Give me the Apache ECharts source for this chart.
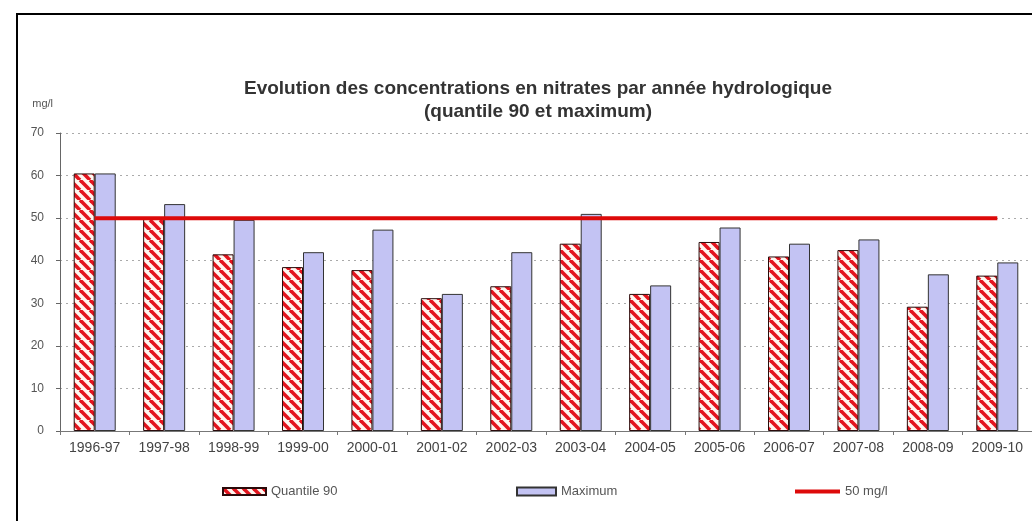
<!DOCTYPE html>
<html>
<head>
<meta charset="utf-8">
<script src="https://cdn.jsdelivr.net/npm/echarts@6/dist/echarts.min.js"></script>
<style>
  html, body { margin: 0; padding: 0; background: #fff; }
  #chart { width: 1032px; height: 521px; }
</style>
</head>
<body>
<div id="chart"></div>
<script>
// années hydrologiques
const years = ['1996-97', '1997-98', '1998-99', '1999-00', '2000-01', '2001-02', '2002-03',
  '2003-04', '2004-05', '2005-06', '2006-07', '2007-08', '2008-09', '2009-10']
// valeurs (mg/l)
const quantile90 = [60.5, 49.8, 41.5, 38.5, 37.8, 31.2, 34.0, 44.0, 32.2, 44.4, 41.0, 42.5, 29.2, 36.5]
const maximum = [60.5, 53.3, 49.6, 42.0, 47.3, 32.2, 42.0, 51.0, 34.2, 47.8, 44.0, 45.0, 36.8, 39.6]
const seuil = years.map(() => 50)
const yTicks = [0, 10, 20, 30, 40, 50, 60, 70]

// motif hachuré rouge
const makeHatch = () => {
  const c = document.createElement('canvas')
  const s = 10
  c.width = s
  c.height = s
  const ctx = c.getContext('2d')
  ctx.fillStyle = '#fff6f0'
  ctx.fillRect(0, 0, s, s)
  ctx.strokeStyle = '#e3141e'
  ctx.lineWidth = 3.6
  for (let k = -s; k <= s; k += s) {
    ctx.beginPath()
    ctx.moveTo(k, 0)
    ctx.lineTo(k + s, s)
    ctx.stroke()
  }
  return c
}
const hatch = { image: makeHatch(), repeat: 'repeat' }

const font = 'Liberation Sans, Arial, sans-serif'
const myChart = echarts.init(document.getElementById('chart'))

const legendText = { fontFamily: font, fontSize: 13, color: '#555' }

const option = {
  backgroundColor: '#fff',
  animation: false,
  title: {
    text: 'Evolution des concentrations en nitrates par année hydrologique\n(quantile 90 et maximum)',
    left: 533,
    top: 72,
    textAlign: 'center',
    textStyle: {
      fontFamily: font,
      fontSize: 19,
      fontWeight: 'bold',
      color: '#333',
      lineHeight: 23
    }
  },
  legend: [
    {
      left: 217, top: 480, itemWidth: 43, itemHeight: 7, itemGap: 2,
      data: [{ name: 'Quantile 90', icon: 'rect' }],
      textStyle: legendText
    },
    {
      left: 511, top: 480, itemWidth: 39, itemHeight: 8, itemGap: 4,
      data: [{ name: 'Maximum', icon: 'rect' }],
      textStyle: legendText
    },
    {
      left: 790, top: 480, itemWidth: 45, itemHeight: 4, itemGap: 2,
      data: [{ name: '50 mg/l', icon: 'rect' }],
      textStyle: legendText
    }
  ],
  grid: {
    left: 60,
    top: 133,
    width: 976,
    height: 298
  },
  xAxis: {
    type: 'category',
    data: years,
    axisLine: { lineStyle: { color: '#777' } },
    axisTick: { show: true, length: 4, lineStyle: { color: '#777' } },
    axisLabel: { fontFamily: font, fontSize: 14, color: '#444', margin: 10 }
  },
  yAxis: {
    type: 'value',
    min: 0,
    max: 70,
    interval: 10,
    name: 'mg/l',
    nameLocation: 'end',
    nameGap: 24,
    nameTextStyle: { fontFamily: font, fontSize: 11, color: '#555', align: 'right', padding: [0, 7, 0, 0] },
    axisLine: { show: true, lineStyle: { color: '#666' } },
    axisTick: { show: true, length: 4, lineStyle: { color: '#666' } },
    axisLabel: {
      fontFamily: font, fontSize: 12, color: '#555', margin: 16,
      formatter: v => (yTicks.includes(v) ? String(v) : '')
    },
    splitLine: { lineStyle: { color: '#aaa', type: [2, 4], width: 1 } }
  },
  series: [
    {
      name: 'Quantile 90',
      type: 'bar',
      data: quantile90,
      barWidth: 21,
      barGap: '0%',
      itemStyle: { color: hatch, borderColor: '#2a0a0a', borderWidth: 1 }
    },
    {
      name: 'Maximum',
      type: 'bar',
      data: maximum,
      barWidth: 21,
      itemStyle: { color: '#c3c3f3', borderColor: '#333', borderWidth: 1 }
    },
    {
      name: '50 mg/l',
      type: 'line',
      data: seuil,
      symbol: 'none',
      z: 5,
      itemStyle: { color: '#dd0a0a' },
      lineStyle: { color: '#dd0a0a', width: 4 }
    }
  ],
  graphic: [
    {
      type: 'rect',
      shape: { x: 17, y: 14, width: 1100, height: 600 },
      style: { fill: 'none', stroke: '#000', lineWidth: 2 },
      silent: true
    }
  ]
}

myChart.setOption(option, true)
</script>
</body>
</html>
